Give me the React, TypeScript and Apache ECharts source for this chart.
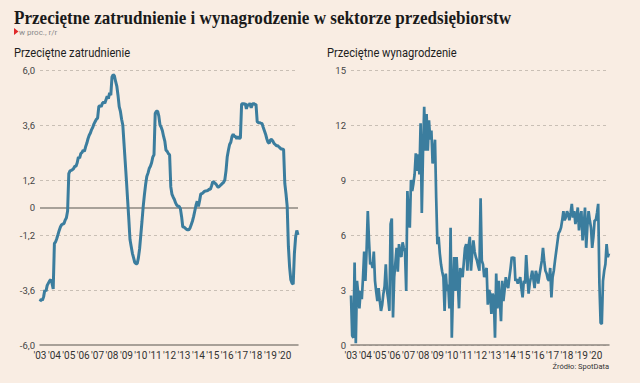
import React, { useEffect, useRef } from 'react';
import * as echarts from 'echarts';

const yearList = [2003, 2004, 2005, 2006, 2007, 2008, 2009, 2010, 2011, 2012, 2013, 2014, 2015, 2016, 2017, 2018, 2019, 2020];
const monthList = ['01', '02', '03', '04', '05', '06', '07', '08', '09', '10', '11', '12'];

// Przeciętne zatrudnienie, % r/r (monthly, 2003-01 .. 2020-12)
const employment = [
  -4.1, -4.0, -4.05, -3.9, -3.6, -3.65, -3.4, -3.3, -3.2, -3.15, -3.3, -3.55,
  -1.57, -1.5, -1.35, -1.18, -1.0, -0.85, -0.75, -0.72, -0.7, -0.55, -0.45, -0.15,
  1.48, 1.6, 1.62, 1.65, 1.7, 1.8, 1.8, 1.95, 2.2, 2.15, 2.35, 2.4,
  2.5, 2.45, 2.65, 2.8, 3.0, 3.15, 3.25, 3.4, 3.5, 3.65, 3.75, 3.85,
  3.9, 4.4, 4.45, 4.4, 4.55, 4.6, 4.55, 4.7, 4.85, 4.75, 5.0, 4.9,
  5.7, 5.8, 5.75, 5.5, 5.3, 4.9, 4.4, 4.2, 3.85, 3.6, 2.8, 2.0,
  1.2, 0.35, -0.5, -1.4, -1.7, -2.0, -2.2, -2.4, -2.45, -2.45, -2.2, -1.8,
  -1.2, -0.6, 0.04, 0.55, 1.0, 1.35, 1.5, 1.7, 1.8, 1.95, 2.2, 2.3,
  4.1, 4.2, 4.2, 4.0, 3.6, 3.5, 3.35, 3.1, 2.9, 2.5, 2.45, 2.35,
  2.3, 0.9, 0.57, 0.45, 0.35, 0.2, 0.1, 0.05, 0.05, -0.05, -0.4, -0.85,
  -0.85, -0.9, -0.95, -0.97, -0.97, -0.9, -0.75, -0.6, -0.4, -0.15, 0.1, 0.27,
  0.05, 0.3, 0.6, 0.6, 0.65, 0.7, 0.72, 0.73, 0.75, 0.8, 0.8, 0.95,
  1.13, 1.1, 1.05, 1.0, 0.9, 0.9, 0.95, 1.0, 1.05, 1.1, 1.2, 1.6,
  2.2, 2.5, 2.75, 2.85, 3.1, 3.2, 3.1, 3.1, 3.0, 3.1, 3.0, 3.05,
  4.5, 4.55, 4.5, 4.55, 4.3, 4.5, 4.45, 4.55, 4.35, 4.5, 4.55, 4.5,
  4.5, 3.75, 3.7, 3.7, 3.68, 3.67, 3.5, 3.35, 3.2, 3.0, 2.85, 2.8,
  2.95, 2.97, 2.9, 2.8, 2.75, 2.7, 2.7, 2.65, 2.6, 2.55, 2.55, 2.53,
  1.05, 0.6, 0.05, -1.7, -2.6, -3.15, -3.3, -3.35, -2.0, -1.3, -1.0, -1.2,
];

// Przeciętne wynagrodzenie, % r/r (monthly, 2003-01 .. 2020-12)
const wages = [
  2.7, 0.5, 0.4, 4.5, 0.1, 3.5, 2.8, 2.0, 2.95, 2.5, 3.67, 5.1,
  3.5, 5.2, 7.3, 5.7, 4.4, 4.5, 4.2, 5.1, 3.5, 2.9, 2.4, 3.1,
  2.4, 1.86, 2.2, 2.8, 3.2, 4.4, 2.95, 2.5, 1.86, 6.6, 6.9, 1.5,
  3.7, 4.5, 5.3, 4.0, 5.5, 5.0, 4.8, 5.6, 5.3, 5.1, 2.95, 8.4,
  7.0, 6.4, 9.0, 8.4, 8.8, 9.3, 10.45, 9.5, 10.4, 9.3, 12.1, 7.2,
  10.5, 13.0, 10.6, 12.6, 10.6, 12.25, 11.2, 11.7, 9.9, 10.5, 11.2, 8.0,
  5.5, 5.9, 5.0, 4.4, 4.0, 3.7, 1.86, 3.9, 2.95, 3.3, 2.0, 6.4,
  0.4, 3.0, 4.8, 2.95, 4.8, 3.5, 2.0, 4.2, 3.9, 3.7, 4.5, 5.3,
  5.5, 4.05, 5.4, 5.9, 4.05, 5.0, 5.7, 5.1, 4.8, 4.6, 4.3, 4.05,
  8.0, 4.6, 4.4, 3.7, 4.0, 4.2, 2.2, 3.0, 2.8, 1.7, 2.8, 2.6,
  0.4, 3.9, 2.0, 3.5, 2.5, 1.3, 3.5, 2.4, 3.0, 3.7, 3.3, 3.1,
  3.7, 4.2, 4.8, 4.7, 4.8, 3.5, 3.6, 3.35, 3.5, 3.7, 3.1, 2.6,
  3.5, 3.35, 4.9, 3.8, 2.8, 3.4, 3.7, 4.05, 3.6, 3.1, 4.05, 3.8,
  3.35, 3.8, 4.2, 4.6, 5.3, 4.6, 4.05, 3.9, 3.6, 3.5, 4.2, 2.6,
  3.7, 4.05, 4.6, 5.1, 5.6, 6.1, 6.2, 6.4, 6.8, 7.3, 6.8, 6.95,
  7.3, 7.15, 6.8, 7.2, 7.7, 6.95, 7.3, 6.6, 7.0, 7.5, 6.25, 7.0,
  7.3, 5.7, 6.5, 7.5, 5.3, 6.5, 7.3, 6.8, 6.4, 5.3, 5.9, 6.8,
  6.8, 7.2, 7.7, 3.35, 1.2, 1.15, 3.5, 4.05, 4.4, 5.5, 4.8, 5.0,
];

const leftTickLabels = [-6, -3.6, -1.2, 0, 1.2, 3.6, 6];
const leftGridValues = [6, 3.6, 1.2, -1.2, -3.6];

const months: string[] = [];
yearList.forEach((y) => monthList.forEach((m) => months.push(`${y}-${m}`)));

const BG = '#f9ede3';
const LINE = '#3b7d9e';
const GRID = '#c9bfb5';
const AXIS = '#8d8780';
const LABEL = '#333';

export default function App() {
  const ref = useRef<HTMLDivElement>(null);
  useEffect(() => {
    document.body.style.margin = '0';
    if (!ref.current) return;
    const chart = echarts.init(ref.current, undefined, { renderer: 'svg' });
    const xAxisCommon = {
      type: 'category',
      data: months,
      boundaryGap: false,
      axisLine: { onZero: false, lineStyle: { color: AXIS, width: 1.5 } },
      axisTick: { show: false },
      splitLine: { show: false },
      axisLabel: {
        interval: (i: number) => i % 12 === 0,
        formatter: (v: string) => "'" + v.slice(2, 4),
        color: LABEL,
        fontSize: 10,
        fontFamily: 'Roboto',
        margin: 5,
      },
    };
    const option: any = {
      animation: false,
      backgroundColor: BG,
      grid: [
        { left: 40, right: 342, top: 70, bottom: 38 },
        { left: 351, right: 31, top: 70, bottom: 38 },
      ],
      xAxis: [
        { ...xAxisCommon, gridIndex: 0 },
        { ...xAxisCommon, gridIndex: 1 },
      ],
      yAxis: [
        {
          type: 'value',
          gridIndex: 0,
          min: -6,
          max: 6,
          interval: 1.2,
          axisLine: { show: false },
          axisTick: { show: false },
          splitLine: { show: false },
          axisLabel: {
            color: '#444',
            fontSize: 9.5,
            fontFamily: 'Roboto',
            margin: 5,
            formatter: (v: number) => {
              const r = Math.round(v * 10) / 10;
              if (!leftTickLabels.some((t) => Math.abs(t - r) < 0.01)) return '';
              if (r === 0) return '0';
              return r.toFixed(1).replace('.', ',');
            },
          },
        },
        {
          type: 'value',
          gridIndex: 1,
          min: 0,
          max: 15,
          interval: 3,
          axisLine: { show: false },
          axisTick: { show: false },
          splitLine: { lineStyle: { color: GRID, type: [3, 3], width: 1 } },
          axisLabel: { color: '#444', fontSize: 9.5, fontFamily: 'Roboto', margin: 5 },
        },
      ],
      series: [
        {
          type: 'line',
          xAxisIndex: 0,
          yAxisIndex: 0,
          data: employment,
          showSymbol: false,
          z: 3,
          lineStyle: { color: LINE, width: 3 },
          markLine: {
            silent: true,
            symbol: ['none', 'none'],
            z: 1,
            label: { show: false },
            animation: false,
            data: [
              ...leftGridValues.map((v) => ({ yAxis: v, lineStyle: { color: GRID, type: [3, 3], width: 1 } })),
              { yAxis: 0, lineStyle: { color: AXIS, type: 'solid', width: 1.5 } },
            ],
          },
        },
        {
          type: 'line',
          xAxisIndex: 1,
          yAxisIndex: 1,
          data: wages,
          showSymbol: false,
          z: 3,
          lineStyle: { color: LINE, width: 2.7 },
        },
      ],
      graphic: [
        {
          type: 'text',
          x: 14,
          y: 18,
          scaleX: 0.95,
          style: {
            text: 'Przeciętne zatrudnienie i wynagrodzenie w sektorze przedsiębiorstw',
            font: 'bold 18px "Liberation Serif"',
            fill: '#1a1a1a',
            verticalAlign: 'middle',
          },
        },
        {
          type: 'polygon',
          shape: { points: [[14, 28], [14, 35], [18.5, 31.5]] },
          style: { fill: '#e02a2a' },
        },
        {
          type: 'text',
          x: 19,
          y: 32,
          style: { text: 'w proc., r/r', font: '8px Roboto', fill: '#8a8a8a', verticalAlign: 'middle' },
        },
        {
          type: 'text',
          x: 14,
          y: 53,
          scaleX: 0.93,
          style: { text: 'Przeciętne zatrudnienie', font: '12px Roboto', fill: '#1e1e1e', verticalAlign: 'middle' },
        },
        {
          type: 'text',
          x: 327,
          y: 53,
          scaleX: 0.93,
          style: { text: 'Przeciętne wynagrodzenie', font: '12px Roboto', fill: '#1e1e1e', verticalAlign: 'middle' },
        },
        {
          type: 'text',
          x: 609,
          y: 366,
          style: { text: 'Źródło: SpotData', font: '7.5px Roboto', fill: '#333', align: 'right', verticalAlign: 'middle' },
        },
      ],
    };
    chart.setOption(option);
    return () => chart.dispose();
  }, []);
  return <div ref={ref} style={{ width: 640, height: 383 }} />;
}
